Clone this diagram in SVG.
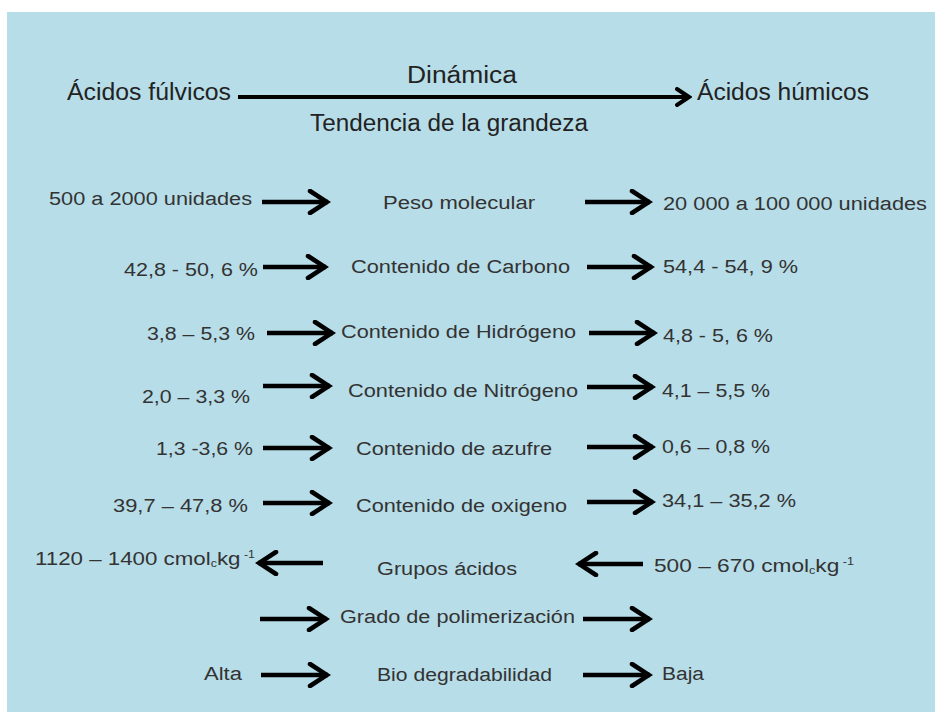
<svg xmlns="http://www.w3.org/2000/svg" width="935" height="712" viewBox="0 0 935 712">
<style>
  text { font-family: "Liberation Sans", Arial, sans-serif; fill: #333; }
  .r { font-size: 18px; }
  .h { font-size: 23px; fill: #222; }
  .sm { font-size: 10px; }
  .a { stroke: #000; stroke-width: 4.5; fill: none; marker-end: url(#head); }
  .ah { stroke: #000; stroke-width: 4; fill: none; marker-end: url(#headH); }
</style>
<defs>
  <marker id="head" markerUnits="userSpaceOnUse" viewBox="0 0 24 26" refX="21" refY="13" markerWidth="24" markerHeight="26" orient="auto">
    <path d="M3,2 L20,13 L3,24" fill="none" stroke="#000" stroke-width="4.5" stroke-linecap="round"/>
  </marker>
  <marker id="headH" markerUnits="userSpaceOnUse" viewBox="0 0 18 20" refX="15" refY="10" markerWidth="18" markerHeight="20" orient="auto">
    <path d="M3,2 L15,10 L3,18" fill="none" stroke="#000" stroke-width="4" stroke-linecap="round"/>
  </marker>
</defs>
<rect x="7" y="12" width="928" height="700" fill="#b7dde8"/>

<g id="header">
  <g id="n-fulvicos"><text class="h" x="67" y="100" textLength="164" lengthAdjust="spacingAndGlyphs">Ácidos fúlvicos</text></g>
  <g id="n-dinamica"><text class="h" x="407" y="83" textLength="110" lengthAdjust="spacingAndGlyphs">Dinámica</text></g>
  <g id="n-humicos"><text class="h" x="697" y="100" textLength="172" lengthAdjust="spacingAndGlyphs">Ácidos húmicos</text></g>
  <g id="n-tendencia"><text class="h" x="310" y="131" textLength="278" lengthAdjust="spacingAndGlyphs">Tendencia de la grandeza</text></g>
</g>

<g id="row-peso">
  <g id="n-peso-l"><text class="r" x="49" y="205" textLength="203" lengthAdjust="spacingAndGlyphs">500 a 2000 unidades</text></g>
  <g id="n-peso"><text class="r" x="383" y="209" textLength="152" lengthAdjust="spacingAndGlyphs">Peso molecular</text></g>
  <g id="n-peso-r"><text class="r" x="663" y="210" textLength="264" lengthAdjust="spacingAndGlyphs">20 000 a 100 000 unidades</text></g>
</g>
<g id="row-carbono">
  <g id="n-c-l"><text class="r" x="124" y="276" textLength="134" lengthAdjust="spacingAndGlyphs">42,8 - 50, 6 %</text></g>
  <g id="n-c"><text class="r" x="351" y="273" textLength="219" lengthAdjust="spacingAndGlyphs">Contenido de Carbono</text></g>
  <g id="n-c-r"><text class="r" x="663" y="273" textLength="135" lengthAdjust="spacingAndGlyphs">54,4 - 54, 9 %</text></g>
</g>
<g id="row-hidrogeno">
  <g id="n-h-l"><text class="r" x="147" y="340" textLength="108" lengthAdjust="spacingAndGlyphs">3,8 – 5,3 %</text></g>
  <g id="n-h"><text class="r" x="341" y="338" textLength="235" lengthAdjust="spacingAndGlyphs">Contenido de Hidrógeno</text></g>
  <g id="n-h-r"><text class="r" x="663" y="342" textLength="110" lengthAdjust="spacingAndGlyphs">4,8 - 5, 6 %</text></g>
</g>
<g id="row-nitrogeno">
  <g id="n-n-l"><text class="r" x="142" y="403" textLength="108" lengthAdjust="spacingAndGlyphs">2,0 – 3,3 %</text></g>
  <g id="n-n"><text class="r" x="348" y="397" textLength="230" lengthAdjust="spacingAndGlyphs">Contenido de Nitrógeno</text></g>
  <g id="n-n-r"><text class="r" x="662" y="397" textLength="108" lengthAdjust="spacingAndGlyphs">4,1 – 5,5 %</text></g>
</g>
<g id="row-azufre">
  <g id="n-s-l"><text class="r" x="156" y="455" textLength="97" lengthAdjust="spacingAndGlyphs">1,3 -3,6 %</text></g>
  <g id="n-s"><text class="r" x="356" y="455" textLength="196" lengthAdjust="spacingAndGlyphs">Contenido de azufre</text></g>
  <g id="n-s-r"><text class="r" x="662" y="453" textLength="108" lengthAdjust="spacingAndGlyphs">0,6 – 0,8 %</text></g>
</g>
<g id="row-oxigeno">
  <g id="n-o-l"><text class="r" x="113" y="512" textLength="135" lengthAdjust="spacingAndGlyphs">39,7 – 47,8 %</text></g>
  <g id="n-o"><text class="r" x="356" y="512" textLength="211" lengthAdjust="spacingAndGlyphs">Contenido de oxigeno</text></g>
  <g id="n-o-r"><text class="r" x="662" y="507" textLength="134" lengthAdjust="spacingAndGlyphs">34,1 – 35,2 %</text></g>
</g>
<g id="row-grupos">
  <g id="n-g-l" transform="translate(35,565) scale(1.24,1)"><text class="r" x="0" y="0">1120 – 1400 cmol<tspan class="sm" dy="2">c</tspan><tspan dy="-2">kg</tspan><tspan class="sm" dy="-7"> -1</tspan></text></g>
  <g id="n-g"><text class="r" x="377" y="575" textLength="140" lengthAdjust="spacingAndGlyphs">Grupos ácidos</text></g>
  <g id="n-g-r" transform="translate(654,572) scale(1.26,1)"><text class="r" x="0" y="0">500 – 670 cmol<tspan class="sm" dy="2">c</tspan><tspan dy="-2">kg</tspan><tspan class="sm" dy="-7"> -1</tspan></text></g>
</g>
<g id="row-grado">
  <g id="n-grado"><text class="r" x="340" y="623" textLength="235" lengthAdjust="spacingAndGlyphs">Grado de polimerización</text></g>
</g>
<g id="row-bio">
  <g id="n-b-l"><text class="r" x="204" y="680" textLength="38" lengthAdjust="spacingAndGlyphs">Alta</text></g>
  <g id="n-b"><text class="r" x="377" y="681" textLength="175" lengthAdjust="spacingAndGlyphs">Bio degradabilidad</text></g>
  <g id="n-b-r"><text class="r" x="662" y="680" textLength="42" lengthAdjust="spacingAndGlyphs">Baja</text></g>
</g>

<g id="connectors">
  <path class="ah" d="M238,97 L689,97"/>
  <path class="a" d="M262,202 L328,202"/>
  <path class="a" d="M263,267 L326,267"/>
  <path class="a" d="M267,333 L333,333"/>
  <path class="a" d="M263,386 L330,386"/>
  <path class="a" d="M263,448 L330,448"/>
  <path class="a" d="M263,503 L330,503"/>
  <path class="a" d="M323,563 L258,563"/>
  <path class="a" d="M260,619 L327,619"/>
  <path class="a" d="M261,675 L328,675"/>
  <path class="a" d="M585,202 L650,202"/>
  <path class="a" d="M587,267 L652,267"/>
  <path class="a" d="M589,333 L655,333"/>
  <path class="a" d="M587,387 L653,387"/>
  <path class="a" d="M587,447 L653,447"/>
  <path class="a" d="M587,502 L653,502"/>
  <path class="a" d="M643,564 L578,564"/>
  <path class="a" d="M583,619 L650,619"/>
  <path class="a" d="M583,675 L650,675"/>
</g>
</svg>
